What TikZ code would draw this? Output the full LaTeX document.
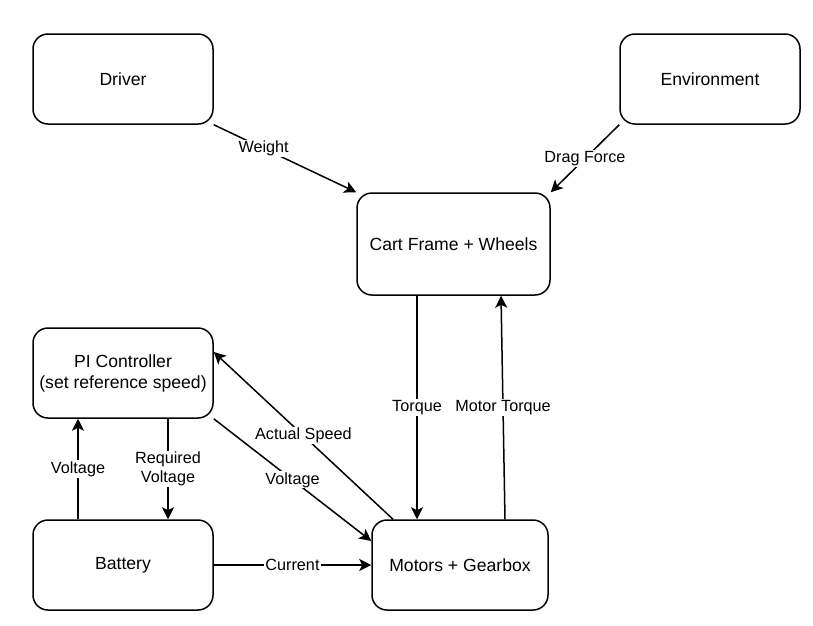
\documentclass[tikz,border=0pt]{standalone}
\usepackage{fontspec}
\setmainfont{Liberation Sans}
\usetikzlibrary{arrows.meta,calc}
\begin{document}
\begin{tikzpicture}[x=1pt,y=-1pt,
  blk/.style={draw=black,line width=1.5pt,rounded corners=15pt,fill=white,
    minimum width=180pt,minimum height=90pt,inner sep=0pt,align=center,
    font=\fontsize{17.6}{21}\selectfont},
  conn/.style={line width=1.5pt,-{Stealth[length=12pt,width=12pt,inset=3pt]}},
  lbl/.style={fill=white,inner sep=1pt,align=center,font=\fontsize{16.2}{19.5}\selectfont}]
\useasboundingbox (0,0) rectangle (813,625);
\node[blk] (driver) at (123,79) {Driver};
\node[blk] (env) at (710,79) {Environment};
\node[blk,minimum width=193pt,minimum height=102pt] (cart) at (453.5,244) {Cart Frame + Wheels};
\node[blk] (pi) at (123,373) {PI Controller\\(set reference speed)};
\node[blk] (bat) at (123,565) {Battery};
\node[blk,minimum width=176pt] (mot) at (460,565) {Motors + Gearbox};

\draw[conn] (driver.south east) -- node[lbl,pos=0.35] {Weight} (cart.north west);
\draw[conn] (env.south west) -- node[lbl] {Drag Force} (cart.north east);
\draw[conn] ([xshift=-36.5pt]cart.south) -- node[lbl] {Torque} ([xshift=-43pt]mot.north);
\draw[conn] ([xshift=45pt]mot.north) -- node[lbl] {Motor Torque} ([xshift=47.5pt]cart.south);
\draw[conn] ([xshift=-67pt]mot.north) -- node[lbl] {Actual Speed} ([yshift=21pt]pi.east);
\draw[conn] (pi.south east) -- node[lbl] {Voltage} ([yshift=24pt]mot.west);
\draw[conn] ([xshift=-45pt]bat.north) -- node[lbl] {Voltage} ([xshift=-45pt]pi.south);
\draw[conn] ([xshift=45pt]pi.south) -- node[lbl] {Required\\Voltage} ([xshift=45pt]bat.north);
\draw[conn] (bat.east) -- node[lbl] {Current} (mot.west);
\end{tikzpicture}
\end{document}
